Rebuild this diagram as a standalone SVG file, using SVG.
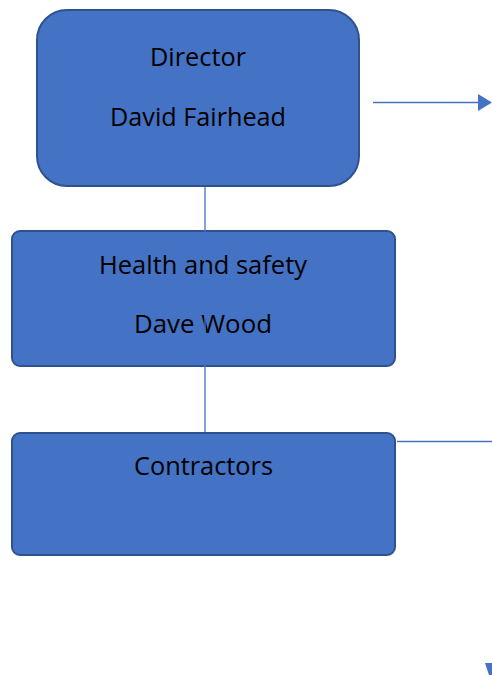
<svg xmlns="http://www.w3.org/2000/svg" width="492" height="675" viewBox="0 0 492 675">
<style>
.box{fill:#4472C4;stroke:#2F528F;stroke-width:2}
.lbl{font-family:"Open Sans","Liberation Sans",sans-serif;font-size:25px;fill:#000;text-anchor:middle}
.con{stroke:#4472C4;stroke-width:1.3;fill:none}
</style>
<rect width="492" height="675" fill="#fff"/>
<g id="director">
<rect class="box" x="37" y="10" width="322" height="176" rx="30"/>
<text class="lbl" x="198" y="66" textLength="96" lengthAdjust="spacingAndGlyphs">Director</text>
<text class="lbl" x="198" y="126" textLength="176" lengthAdjust="spacingAndGlyphs">David Fairhead</text>
</g>
<g id="health">
<rect class="box" x="12" y="231" width="383" height="135" rx="8"/>
<text class="lbl" x="203" y="274" textLength="208" lengthAdjust="spacingAndGlyphs">Health and safety</text>
<text class="lbl" x="203" y="333" textLength="138" lengthAdjust="spacingAndGlyphs">Dave Wood</text>
</g>
<g id="contractors">
<rect class="box" x="12" y="433" width="383" height="122" rx="8"/>
<text class="lbl" x="203.5" y="475" textLength="139" lengthAdjust="spacingAndGlyphs">Contractors</text>
</g>
<g id="connectors">
<line class="con" x1="205" y1="187" x2="205" y2="432" stroke="#5A80CB"/>
<line class="con" x1="373" y1="102.5" x2="479" y2="102.5"/>
<polygon points="478,94 492,102.5 478,111" fill="#4472C4"/>
<line class="con" x1="397" y1="441.5" x2="492" y2="441.5"/>
<polygon points="485,663 492,663 492,675 489,675" fill="#4472C4"/>
</g>
</svg>
